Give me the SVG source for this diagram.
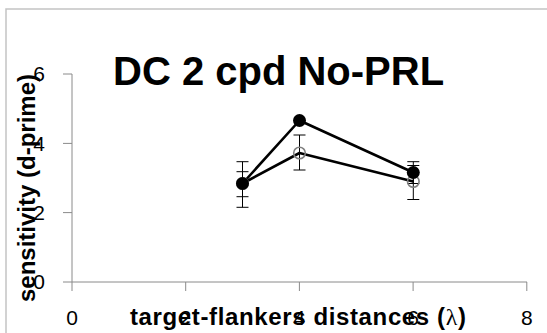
<svg xmlns="http://www.w3.org/2000/svg" width="547" height="333" viewBox="0 0 547 333">
<style>
.frame{fill:none;stroke:#c3c3c3;stroke-width:1.5}
.axis{fill:none;stroke:#8a8a8a;stroke-width:1}
.tick{font-family:"Liberation Sans",Arial,sans-serif;font-size:21px;fill:#000}
.title{font-family:"Liberation Sans",Arial,sans-serif;font-size:40px;font-weight:bold;fill:#000}
.lab{font-family:"Liberation Sans",Arial,sans-serif;font-size:24px;font-weight:bold;fill:#000}
.err{fill:none;stroke:#000;stroke-width:1}
.ser{fill:none;stroke:#000;stroke-width:2.6;stroke-linejoin:round}
.dot{fill:#000}
.ring{fill:none;stroke:#7f7f7f;stroke-width:1.6}
</style>
<rect width="547" height="333" fill="#fff"/>
<path class="frame" d="M6,333 V9 H547"/>
<g id="axes">
<path class="axis" d="M72,74 V282 H527"/>
<path class="axis" d="M63,74 H72 M63,143.4 H72 M63,212.6 H72 M63,282 H72"/>
<path class="axis" d="M72,282 V291 M185.7,282 V291 M299.4,282 V291 M413.1,282 V291 M526.8,282 V291"/>
</g>
<g id="ticklabels">
<text class="tick" x="45" y="81" text-anchor="end">6</text>
<text class="tick" x="45" y="150.5" text-anchor="end">4</text>
<text class="tick" x="45" y="219.5" text-anchor="end">2</text>
<text class="tick" x="45" y="289" text-anchor="end">0</text>
<text class="tick" x="72" y="325" text-anchor="middle">0</text>
<text class="tick" x="185.7" y="325" text-anchor="middle">2</text>
<text class="tick" x="299.4" y="325" text-anchor="middle">4</text>
<text class="tick" x="413.1" y="325" text-anchor="middle">6</text>
<text class="tick" x="526.8" y="325" text-anchor="middle">8</text>
</g>
<g id="title"><text class="title" x="113" y="85">DC 2 cpd No-PRL</text></g>
<g id="ylabel"><text class="lab" transform="translate(35,302) rotate(-90)" textLength="228" lengthAdjust="spacing">sensitivity (d-prime)</text></g>
<g id="xlabel"><text class="lab" x="130" y="325" font-size="25" textLength="336" lengthAdjust="spacing">target-flankers distances (<tspan font-family="'Liberation Serif',serif" font-weight="normal">λ</tspan>)</text></g>
<g id="connectors">
<path class="err" d="M242.5,161.7 V207.3 M236.5,161.7 H248.5 M236.5,207.3 H248.5"/>
<path class="err" d="M242.5,171.7 V196.7 M236.5,171.7 H248.5 M236.5,196.7 H248.5"/>
<path class="err" d="M299.5,135 V170 M293.5,135 H305.5 M293.5,170 H305.5"/>
<path class="err" d="M413.3,161.7 V183.5 M407.3,161.7 H419.3 M407.3,183.5 H419.3"/>
<path class="err" d="M413.3,165.5 V199.5 M407.3,165.5 H419.3 M407.3,199.5 H419.3"/>
<polyline class="ser" points="242.5,183.5 299.5,153 413.3,181.5"/>
<polyline class="ser" points="242.5,183.5 299.5,120.5 413.3,172.5"/>
</g>
<g id="series-open">
<circle class="ring" cx="242.5" cy="183.5" r="5.8"/>
<circle class="ring" cx="299.5" cy="153" r="5.8"/>
<circle class="ring" cx="413.3" cy="181.5" r="5.8"/>
</g>
<g id="series-filled">
<circle class="dot" cx="242.5" cy="183.5" r="6.5"/>
<circle class="dot" cx="299.5" cy="120.5" r="6.5"/>
<circle class="dot" cx="413.3" cy="172.5" r="6.5"/>
</g>
</svg>
